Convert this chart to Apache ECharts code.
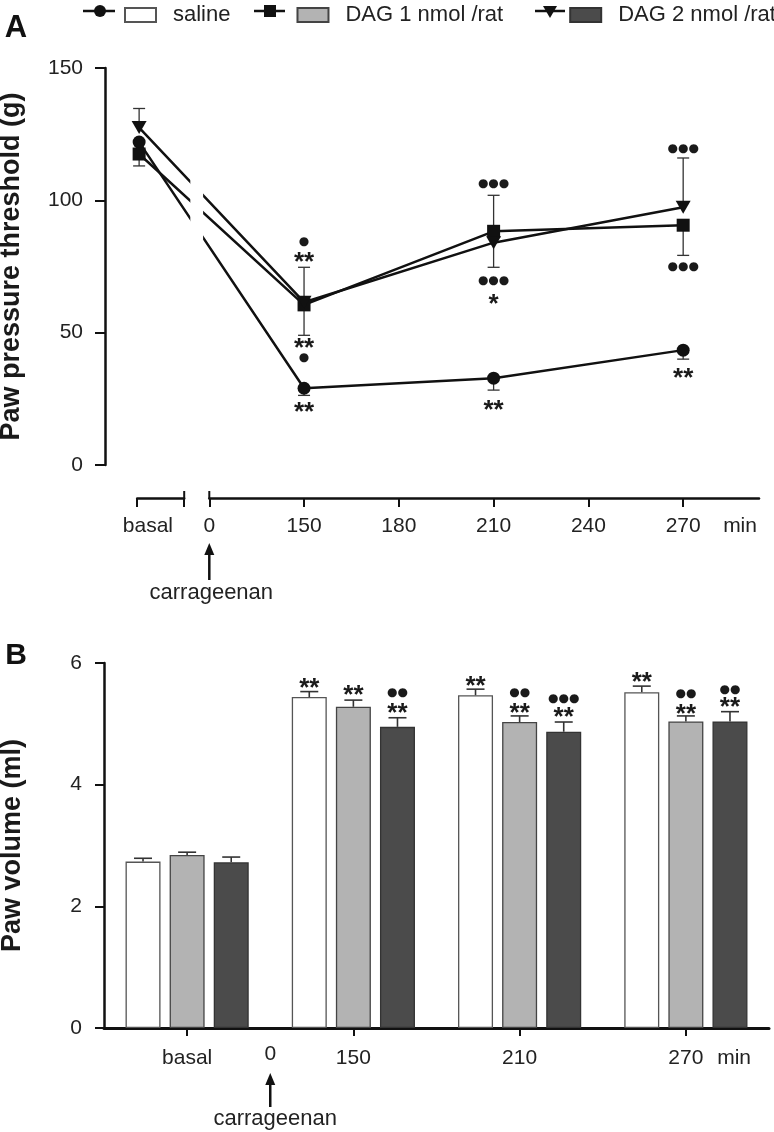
<!DOCTYPE html>
<html><head><meta charset="utf-8">
<script src="https://cdn.jsdelivr.net/npm/echarts@6/dist/echarts.min.js"></script>
<style>html,body{margin:0;padding:0;background:#fff}#c{width:774px;height:1132px}</style>
</head><body><div id="c"></div>
<script>
// ---------------- Panel A data ----------------
const timeTicksA = ['0', '150', '180', '210', '240', '270'];
const pointTimesA = ['basal', '150', '210', '270'];
const salineA = [122, 29.0, 32.8, 43.4];
const salineSemA = [3.0, 2.7, 4.5, 3.4];
const dag1A = [117.5, 60.5, 88.3, 90.6];
const dag1SemA = [4.5, 11.5, 13.6, 11.4];
const dag2A = [127.5, 61.5, 84.0, 97.4];
const dag2SemA = [7.2, 13.2, 17.9, 18.6];
const annotA = [
  ['150', 84.2, '●'], ['150', 78.5, '**'], ['150', 46.0, '**'], ['150', 40.4, '●'], ['150', 21.9, '**'],
  ['210', 106.4, '●●●'], ['210', 69.4, '●●●'], ['210', 62.6, '*'], ['210', 22.6, '**'],
  ['270', 119.6, '●●●'], ['270', 75.0, '●●●'], ['270', 35.0, '**']
];
// ---------------- Panel B data ----------------
const categoriesB = ['basal', '150', '210', '270'];
const salineB = [2.735, 5.44, 5.47, 5.52];
const salineSemB = [0.055, 0.09, 0.10, 0.10];
const dag1B = [2.845, 5.28, 5.03, 5.04];
const dag1SemB = [0.045, 0.11, 0.10, 0.09];
const dag2B = [2.725, 4.95, 4.87, 5.04];
const dag2SemB = [0.085, 0.15, 0.16, 0.16];
const annotB = [ // [category, bar index in group, value, text]
  ['150', 0, 5.67, '**'], ['150', 1, 5.56, '**'], ['150', 2, 5.26, '**'], ['150', 2, 5.51, '●●'],
  ['210', 0, 5.71, '**'], ['210', 1, 5.26, '**'], ['210', 1, 5.51, '●●'], ['210', 2, 5.19, '**'], ['210', 2, 5.41, '●●●'],
  ['270', 0, 5.77, '**'], ['270', 1, 5.25, '**'], ['270', 1, 5.49, '●●'], ['270', 2, 5.36, '**'], ['270', 2, 5.56, '●●']
];
const seriesNames = ['saline', 'DAG 1 nmol /rat', 'DAG 2 nmol /rat'];

// ---------------- layout config ----------------
const FONT = '"Liberation Sans", Arial, sans-serif';
const BASAL_U = -0.74;          // position of basal point on broken axis A
const GAP_U = [-0.2, -0.065];   // break in the lines of panel A
const BAR_W = 35, BAR_GAP = 0.26;
const uOf = t => t === 'basal' ? BASAL_U : timeTicksA.indexOf(t);

const lineVals = [salineA, dag1A, dag2A];
const lineSems = [salineSemA, dag1SemA, dag2SemA];
const errDir = [-1, -1, 1];
const symbols = ['circle', 'rect', 'triangle'];
const symSizes = [13, 13, [15, 13]];
const barVals = [salineB, dag1B, dag2B];
const barSems = [salineSemB, dag1SemB, dag2SemB];
const barColors = ['#ffffff', '#b3b3b3', '#4b4b4b'];
const barBorders = ['#555555', '#444444', '#333333'];

const errDataA = [];
lineVals.forEach((vals, s) => vals.forEach((v, i) => errDataA.push([uOf(pointTimesA[i]), v, lineSems[s][i], errDir[s]])));
const annATexts = annotA.map(a => a[2]);
const annAData = annotA.map(a => [uOf(a[0]), a[1]]);
const errDataB = [];
barVals.forEach((vals, s) => vals.forEach((v, i) => errDataB.push([i, v, barSems[s][i], s])));
const annBTexts = annotB.map(a => a[3]);
const annBData = annotB.map(a => [categoriesB.indexOf(a[0]), a[2], a[1]]);

function textStyleFor(txt) {
  if (txt.indexOf('*') >= 0) return { font: 'bold 26px ' + FONT, dy: 6 };
  return { font: '12px "DejaVu Sans", sans-serif', dy: 0 };
}

const axisLineStyle = { color: '#111', width: 2.5 };
const noBounds = { outerBoundsMode: 'none', containLabel: false };
const yLabel = { fontSize: 21, color: '#222', margin: 22, fontFamily: FONT };
const yName = { fontSize: 27, fontWeight: 'bold', color: '#1a1a1a', fontFamily: FONT };

const option = {
  animation: false,
  backgroundColor: '#fff',
  textStyle: { fontFamily: FONT },
  legend: {
    data: seriesNames,
    left: 124, top: 4, padding: 0, width: 900,
    itemWidth: 31, itemHeight: 14, itemGap: 66,
    icon: 'rect',
    textStyle: { fontSize: 22, color: '#222', fontFamily: FONT, padding: [0, 0, 0, 12] },
    selectedMode: false
  },
  grid: [
    Object.assign({ left: 105, top: 68, width: 654, height: 397 }, noBounds),
    Object.assign({ left: 209.3, top: 497, width: 549.7, height: 1 }, noBounds),
    Object.assign({ left: 137.2, top: 497, width: 47, height: 1 }, noBounds),
    Object.assign({ left: 104, top: 663, width: 665, height: 365 }, noBounds)
  ],
  xAxis: [
    { gridIndex: 0, type: 'value', min: -1.1, max: 5.8, show: false },
    { gridIndex: 1, type: 'value', min: 0, max: 5.8, position: 'bottom',
      axisLine: { show: true, onZero: false, lineStyle: axisLineStyle },
      axisTick: { show: true, length: 9, lineStyle: { width: 2, color: '#111' }, customValues: [0, 1, 2, 3, 4, 5] },
      axisLabel: { show: true, fontSize: 21, color: '#222', margin: 18, fontFamily: FONT,
        customValues: [0, 1, 2, 3, 4, 5, 5.6],
        formatter: v => Number.isInteger(v) ? timeTicksA[v] : 'min' },
      splitLine: { show: false } },
    { gridIndex: 2, type: 'value', min: -0.76, max: -0.264, position: 'bottom',
      axisLine: { show: true, onZero: false, lineStyle: axisLineStyle },
      axisTick: { show: true, length: 9, lineStyle: { width: 2, color: '#111' }, customValues: [-0.76, -0.264] },
      axisLabel: { show: true, fontSize: 21, color: '#222', margin: 18, fontFamily: FONT,
        customValues: [-0.647], formatter: () => 'basal' },
      splitLine: { show: false } },
    { gridIndex: 3, type: 'category', data: categoriesB, position: 'bottom',
      axisLine: { show: true, onZero: false, lineStyle: { color: '#111', width: 3 } },
      axisTick: { show: true, alignWithLabel: true, length: 8, lineStyle: { width: 2, color: '#111' } },
      axisLabel: { fontSize: 21, color: '#222', margin: 20, fontFamily: FONT } },
    { gridIndex: 3, type: 'value', min: -0.5, max: 3.5, position: 'bottom',
      axisLine: { show: false, onZero: false }, axisTick: { show: false }, splitLine: { show: false },
      axisLabel: { show: true, fontSize: 21, color: '#222', margin: 16, fontFamily: FONT,
        customValues: [0.5, 3.29], formatter: v => v < 1 ? '0' : '{m|min}',
        rich: { m: { fontSize: 21, color: '#222', fontFamily: FONT, padding: [4, 0, 0, 0] } } } }
  ],
  yAxis: [
    { gridIndex: 0, type: 'value', min: 0, max: 150, interval: 50,
      name: 'Paw pressure threshold (g)', nameLocation: 'middle', nameGap: 80, nameTextStyle: yName,
      axisLine: { show: true, onZero: false, lineStyle: axisLineStyle },
      axisTick: { show: true, length: 10, lineStyle: { width: 2, color: '#111' } },
      axisLabel: yLabel, splitLine: { show: false } },
    { gridIndex: 1, type: 'value', min: 0, max: 1, show: false },
    { gridIndex: 2, type: 'value', min: 0, max: 1, show: false },
    { gridIndex: 3, type: 'value', min: 0, max: 6, interval: 2,
      name: 'Paw volume (ml)', nameLocation: 'middle', nameGap: 78, nameTextStyle: yName,
      axisLine: { show: true, onZero: false, lineStyle: axisLineStyle },
      axisTick: { show: true, length: 9, lineStyle: { width: 2, color: '#111' } },
      axisLabel: yLabel, splitLine: { show: false } }
  ],
  series: []
};

// Panel A error bars
option.series.push({
  type: 'custom', name: 'errA', xAxisIndex: 0, yAxisIndex: 0, z: 1, silent: true,
  data: errDataA,
  renderItem: (params, api) => {
    const u = api.value(0), v = api.value(1), sem = api.value(2), dir = api.value(3);
    const p0 = api.coord([u, v]), p1 = api.coord([u, v + dir * sem]);
    const st = { stroke: '#333', lineWidth: 1.3 };
    return { type: 'group', children: [
      { type: 'line', shape: { x1: p0[0], y1: p0[1], x2: p1[0], y2: p1[1] }, style: st },
      { type: 'line', shape: { x1: p1[0] - 6, y1: p1[1], x2: p1[0] + 6, y2: p1[1] }, style: st }
    ] };
  }
});
// Panel A lines
lineVals.forEach((vals, s) => {
  option.series.push({
    type: 'line', name: 'A: ' + seriesNames[s], xAxisIndex: 0, yAxisIndex: 0, z: 3,
    data: vals.map((v, i) => [uOf(pointTimesA[i]), v]),
    symbol: symbols[s], symbolSize: symSizes[s], symbolRotate: s === 2 ? 180 : 0,
    showAllSymbol: true,
    itemStyle: { color: '#111' },
    lineStyle: { color: '#111', width: 2.5 }
  });
});
// Panel A annotations
option.series.push({
  type: 'custom', name: 'annA', xAxisIndex: 0, yAxisIndex: 0, z: 4, silent: true,
  data: annAData,
  renderItem: (params, api) => {
    const p = api.coord([api.value(0), api.value(1)]);
    const txt = annATexts[params.dataIndex];
    const ts = textStyleFor(txt);
    return { type: 'text', x: p[0], y: p[1] + ts.dy,
      style: { text: txt, font: ts.font, fill: '#1a1a1a', align: 'center', verticalAlign: 'middle' } };
  }
});
// Panel B bars
barVals.forEach((vals, s) => {
  option.series.push({
    type: 'bar', name: seriesNames[s], xAxisIndex: 3, yAxisIndex: 3, z: 2,
    data: vals, barWidth: BAR_W, barGap: (BAR_GAP * 100) + '%',
    itemStyle: { color: barColors[s], borderColor: barBorders[s], borderWidth: 1.3 }
  });
});
// Panel B error bars
option.series.push({
  type: 'custom', name: 'errB', xAxisIndex: 3, yAxisIndex: 3, z: 3, silent: true,
  data: errDataB,
  renderItem: (params, api) => {
    const i = api.value(0), v = api.value(1), sem = api.value(2), s = api.value(3);
    const off = (s - 1) * BAR_W * (1 + BAR_GAP);
    const p0 = api.coord([i, v]), p1 = api.coord([i, v + sem]);
    const x = p0[0] + off;
    const st = { stroke: '#333', lineWidth: 1.6 };
    return { type: 'group', children: [
      { type: 'line', shape: { x1: x, y1: p0[1], x2: x, y2: p1[1] }, style: st },
      { type: 'line', shape: { x1: x - 9, y1: p1[1], x2: x + 9, y2: p1[1] }, style: st }
    ] };
  }
});
// Panel B annotations
option.series.push({
  type: 'custom', name: 'annB', xAxisIndex: 3, yAxisIndex: 3, z: 4, silent: true,
  data: annBData,
  renderItem: (params, api) => {
    const p = api.coord([api.value(0), api.value(1)]);
    const off = (api.value(2) - 1) * BAR_W * (1 + BAR_GAP);
    const txt = annBTexts[params.dataIndex];
    const ts = textStyleFor(txt);
    return { type: 'text', x: p[0] + off, y: p[1] + ts.dy,
      style: { text: txt, font: ts.font, fill: '#1a1a1a', align: 'center', verticalAlign: 'middle' } };
  }
});

const chart = echarts.init(document.getElementById('c'), null, { renderer: 'canvas' });
chart.setOption(option);

// ---------- decorations positioned through the axes ----------
const px = (ax, v) => chart.convertToPixel({ xAxisIndex: ax }, v);
const py = (ax, v) => chart.convertToPixel({ yAxisIndex: ax }, v);
const gA0 = px(0, GAP_U[0]), gA1 = px(0, GAP_U[1]);
const yTopA = py(0, 150), yBotA = py(0, 0);
const axisYA = py(1, 0);
const arrowAx = px(1, 0);
const bracketR = px(2, -0.264);
const arrowBx = px(4, 0.5);

function arrow(x, yTip, yTail) {
  return [
    { type: 'line', z: 100, shape: { x1: x, y1: yTail, x2: x, y2: yTip + 8 }, style: { stroke: '#111', lineWidth: 2.5 } },
    { type: 'polygon', z: 100, shape: { points: [[x, yTip], [x - 5, yTip + 12], [x + 5, yTip + 12]] }, style: { fill: '#111' } }
  ];
}

const LY = 11;
const legendIcons = [
  { type: 'line', z: 100, shape: { x1: 83, y1: LY, x2: 115, y2: LY }, style: { stroke: '#111', lineWidth: 2.5 } },
  { type: 'circle', z: 100, shape: { cx: 100, cy: LY, r: 6 }, style: { fill: '#111' } },
  { type: 'line', z: 100, shape: { x1: 254, y1: LY, x2: 285, y2: LY }, style: { stroke: '#111', lineWidth: 2.5 } },
  { type: 'rect', z: 100, shape: { x: 264, y: LY - 6, width: 12, height: 12 }, style: { fill: '#111' } },
  { type: 'line', z: 100, shape: { x1: 535, y1: LY, x2: 565, y2: LY }, style: { stroke: '#111', lineWidth: 2.5 } },
  { type: 'polygon', z: 100, shape: { points: [[543, LY - 5], [557, LY - 5], [550, LY + 7]] }, style: { fill: '#111' } }
];

chart.setOption({
  graphic: [
    { type: 'rect', z: 100, shape: { x: gA0, y: yTopA, width: gA1 - gA0, height: yBotA - yTopA - 2 }, style: { fill: '#fff' } },
    { type: 'line', z: 100, shape: { x1: bracketR, y1: axisYA - 7, x2: bracketR, y2: axisYA }, style: { stroke: '#111', lineWidth: 2 } },
    { type: 'line', z: 100, shape: { x1: arrowAx, y1: axisYA - 7, x2: arrowAx, y2: axisYA }, style: { stroke: '#111', lineWidth: 2 } },
    ...arrow(arrowAx, 543, 580),
    { type: 'text', z: 100, x: arrowAx + 2, y: 593, style: { text: 'carrageenan', font: '22px ' + FONT, fill: '#222', align: 'center', verticalAlign: 'middle' } },
    ...arrow(arrowBx, 1073, 1107),
    { type: 'text', z: 100, x: arrowBx + 5, y: 1119, style: { text: 'carrageenan', font: '22px ' + FONT, fill: '#222', align: 'center', verticalAlign: 'middle' } },
    { type: 'text', z: 100, x: 16, y: 28, style: { text: 'A', font: 'bold 31px ' + FONT, fill: '#111', align: 'center', verticalAlign: 'middle' } },
    { type: 'text', z: 100, x: 16, y: 656, style: { text: 'B', font: 'bold 30px ' + FONT, fill: '#111', align: 'center', verticalAlign: 'middle' } },
    ...legendIcons
  ]
});
</script>
</body></html>
